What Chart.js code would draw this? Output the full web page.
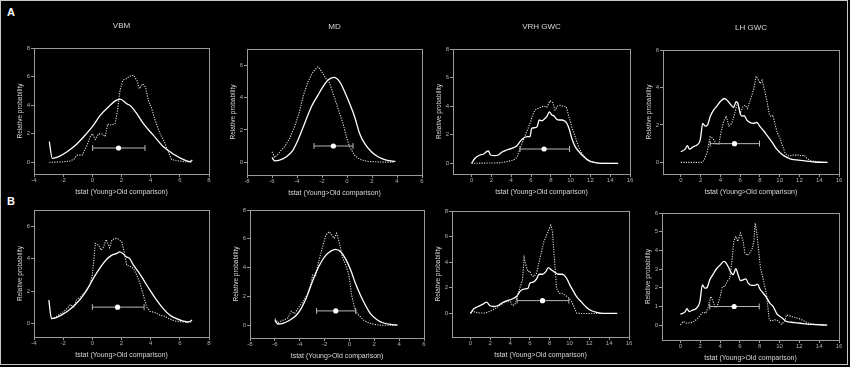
<!DOCTYPE html>
<html>
<head>
<meta charset="utf-8">
<script src="https://cdn.jsdelivr.net/npm/chart.js@4.4.1/dist/chart.umd.min.js"></script>
<style>
  html, body { margin: 0; padding: 0; background: #000; }
  #fig { position: relative; width: 850px; height: 367px; background: #000; overflow: hidden; }
  #frame { position: absolute; left: 0; top: 0; width: 846px; height: 363px; border: 1px solid #c8c8c8; }
  #fig canvas { position: absolute; left: 0; top: 0; }
  .tag { position: absolute; color: #fff; font: bold 11px "Liberation Sans", Arial, sans-serif; line-height: 11px; }
</style>
</head>
<body>
<div id="fig">
  <div id="frame"></div>
  <div class="tag" style="left:7px;top:7px">A</div>
  <div class="tag" style="left:7px;top:196px">B</div>
</div>
<script>
// panel titles (row A only)
const titles = ['VBM', 'MD', 'VRH GWC', 'LH GWC', '', '', '', ''];

// solid curves, [tstat, relative probability]
const solidA_VBM = [[-2.95,1.44],[-2.75,0.28],[-2.3,0.4],[-1.73,0.74],[-1.2,1.15],[-0.59,1.79],[0,2.49],[0.55,3.3],[1.23,4.0],[1.57,4.3],[1.9,4.42],[2.36,4.1],[2.64,3.93],[3.05,3.4],[3.5,2.7],[4.18,1.9],[4.86,1.1],[5.55,0.58],[6.23,0.2],[6.68,0.05],[6.86,0.16]];
const dottedA_VBM = [[-2.95,0],[-2.2,0.02],[-1.6,0.07],[-1.27,0.2],[-1.05,0.5],[-0.7,0.5],[-0.4,1.1],[-0.14,1.8],[0,2.0],[0.2,1.6],[0.43,2.0],[0.66,1.98],[0.89,1.8],[1.05,2.67],[1.34,2.6],[1.57,2.72],[1.73,3.65],[1.9,5.05],[2.09,5.74],[2.32,5.84],[2.55,6.02],[2.82,6.1],[3.05,5.74],[3.23,5.16],[3.45,5.5],[3.64,5.28],[3.84,4.35],[4.07,3.77],[4.3,2.95],[4.64,2.02],[4.98,1.33],[5.2,0.74],[5.43,0.2],[5.77,0.12],[6.23,0.05],[6.86,0]];

const solidA_MD = [[-6,0.29],[-5.79,0.08],[-5.39,0.12],[-4.85,0.33],[-4.32,0.75],[-3.92,1.37],[-3.39,2.4],[-2.85,3.44],[-2.32,4.16],[-1.92,4.68],[-1.52,5.09],[-1.04,5.26],[-0.59,4.99],[-0.19,4.37],[0.21,3.64],[0.61,2.82],[1.01,1.78],[1.41,1.16],[1.95,0.64],[2.48,0.33],[3.15,0.12],[3.87,0.04]];
const dottedA_MD = [[-6,0.64],[-5.79,0.29],[-5.52,0.5],[-5.25,0.75],[-4.99,0.95],[-4.59,1.47],[-4.19,2.19],[-3.84,3.02],[-3.52,4.06],[-3.12,4.99],[-2.72,5.61],[-2.32,5.92],[-2.11,5.71],[-1.84,5.4],[-1.65,5.13],[-1.44,4.99],[-1.25,4.58],[-1.07,4.16],[-0.85,3.64],[-0.59,3.02],[-0.32,2.4],[-0.05,1.57],[0.21,0.95],[0.61,0.43],[1.01,0.17],[1.68,0.04],[2.88,0],[3.81,0]];

const solidA_VRH = [[0,0],[0.34,0.35],[0.84,0.58],[1.18,0.63],[1.52,0.82],[1.69,0.86],[1.92,0.58],[2.36,0.54],[2.7,0.58],[3.04,0.77],[3.54,0.93],[4.05,1.05],[4.55,1.21],[4.89,1.52],[5.23,1.75],[5.63,1.86],[5.9,1.86],[6.07,2.45],[6.41,2.49],[6.65,2.61],[6.82,3.03],[7.09,2.98],[7.32,3.08],[7.59,3.26],[7.86,3.59],[8.1,3.38],[8.33,3.31],[8.6,3.08],[8.87,3.03],[9.11,3.03],[9.35,2.98],[9.62,2.8],[9.89,2.33],[10.12,1.75],[10.46,1.17],[10.9,0.77],[11.3,0.47],[11.81,0.19],[12.48,0.05],[13.16,0],[14.8,0]];
const dottedA_VRH = [[0,0],[2.87,0.03],[3.54,0.12],[4.05,0.19],[4.39,0.28],[4.62,0.47],[4.89,1.05],[5.23,1.63],[5.57,2.21],[5.9,2.8],[6.17,3.38],[6.41,3.73],[6.75,3.85],[7.09,3.96],[7.32,4.0],[7.59,3.92],[7.93,4.38],[8.2,4.24],[8.43,3.73],[8.67,4.0],[8.94,4.06],[9.28,4.0],[9.55,3.96],[9.78,3.38],[10.12,2.56],[10.46,1.86],[10.8,1.17],[11.13,0.7],[11.64,0.28],[12.15,0.09],[12.82,0],[14.8,0]];

const solidA_LH = [[0,0.57],[0.44,0.71],[0.67,0.89],[0.88,0.71],[1.28,0.84],[1.62,0.92],[1.96,1.19],[2.23,2.08],[2.46,1.94],[2.7,1.99],[2.97,2.44],[3.31,2.79],[3.64,3.0],[3.98,3.24],[4.42,3.41],[4.82,3.24],[5.09,3.06],[5.33,2.93],[5.6,3.24],[5.77,3.15],[6.01,2.61],[6.17,2.47],[6.41,2.49],[6.68,2.26],[7.02,2.12],[7.35,2.08],[7.69,2.13],[8.03,1.9],[8.37,1.69],[8.7,1.46],[9.21,1.1],[9.72,0.69],[10.22,0.44],[10.73,0.27],[11.23,0.16],[11.91,0.12],[12.75,0.07],[13.6,0.02],[14.84,0]];
const dottedA_LH = [[0,0],[2.13,0],[2.36,0.12],[2.63,0.48],[2.97,1.37],[3.24,1.28],[3.58,0.98],[3.85,0.98],[4.05,1.55],[4.32,2.17],[4.59,2.47],[4.86,1.94],[5.16,2.08],[5.4,2.52],[5.74,3.24],[6.01,2.61],[6.28,2.97],[6.51,3.06],[6.75,2.88],[7.02,3.32],[7.35,3.86],[7.62,4.6],[7.86,4.39],[8.03,4.21],[8.23,4.39],[8.43,3.95],[8.7,3.32],[8.97,2.52],[9.14,2.44],[9.31,2.52],[9.55,1.99],[9.78,1.55],[10.05,1.28],[10.32,0.84],[10.56,0.48],[10.9,0.34],[11.4,0.39],[11.91,0.39],[12.25,0.34],[12.48,0.39],[12.75,0.21],[13.09,0.09],[13.77,0.04],[14.84,0]];

const solidB_VBM = [[-2.98,1.43],[-2.8,0.29],[-2.52,0.33],[-2.07,0.54],[-1.61,0.81],[-1.16,1.16],[-0.7,1.64],[-0.32,2.15],[0,2.67],[0.32,3.15],[0.66,3.6],[1.0,3.98],[1.34,4.22],[1.68,4.33],[1.86,4.43],[2.09,4.33],[2.32,4.12],[2.55,4.02],[2.82,3.6],[3.16,3.19],[3.5,2.71],[3.95,2.05],[4.41,1.43],[4.86,0.91],[5.32,0.5],[5.77,0.29],[6.23,0.14],[6.57,0.08],[6.84,0.19]];
const dottedB_VBM = [[-2.8,0.29],[-2.52,0.39],[-2.18,0.6],[-1.84,0.81],[-1.5,1.16],[-1.27,1.01],[-1.09,1.43],[-0.82,1.64],[-0.48,1.95],[-0.18,2.36],[0,2.98],[0.09,3.81],[0.2,4.95],[0.43,4.84],[0.61,4.53],[0.77,4.74],[0.95,5.2],[1.05,4.95],[1.18,4.68],[1.34,5.16],[1.57,5.26],[1.8,5.22],[2.02,5.05],[2.18,4.43],[2.36,3.6],[2.59,3.54],[2.82,3.4],[3.05,2.98],[3.27,2.46],[3.5,1.74],[3.73,1.01],[3.95,0.75],[4.3,0.66],[4.64,0.5],[4.98,0.43],[5.32,0.25],[5.77,0.12],[6.23,0.08],[6.84,0.08]];

const solidB_MD = [[-6,0.35],[-5.74,0.09],[-5.35,0.14],[-4.81,0.35],[-4.28,0.7],[-3.89,1.16],[-3.49,1.86],[-3.09,2.78],[-2.69,3.67],[-2.29,4.36],[-1.89,4.87],[-1.5,5.15],[-1.1,5.27],[-0.7,5.1],[-0.3,4.59],[0.1,3.83],[0.49,2.9],[0.89,2.09],[1.29,1.39],[1.69,0.81],[2.22,0.39],[2.75,0.16],[3.42,0.05],[3.87,0.02]];
const dottedB_MD = [[-6,0.46],[-5.74,0.19],[-5.35,0.35],[-4.95,0.51],[-4.68,0.97],[-4.42,0.81],[-4.15,1.16],[-3.75,1.62],[-3.35,2.2],[-3.09,2.9],[-2.96,3.48],[-2.74,3.36],[-2.48,4.41],[-2.16,5.45],[-1.89,6.26],[-1.63,6.5],[-1.42,6.26],[-1.23,6.03],[-1.04,6.38],[-0.83,5.8],[-0.57,4.76],[-0.3,4.18],[-0.04,3.48],[0.18,2.09],[0.39,1.28],[0.63,0.81],[0.89,0.58],[1.16,0.35],[1.56,0.16],[2.09,0.05],[2.62,0],[3.87,0]];

const solidB_VRH = [[0,0],[0.34,0.36],[0.77,0.54],[1.28,0.73],[1.62,0.88],[1.95,0.62],[2.36,0.54],[2.79,0.62],[3.13,0.8],[3.64,0.98],[4.14,1.11],[4.65,1.32],[5.05,1.76],[5.49,1.92],[5.82,1.97],[5.99,2.36],[6.33,2.44],[6.67,2.69],[6.94,3.06],[7.27,3.06],[7.61,3.26],[7.85,3.58],[8.18,3.39],[8.52,3.21],[8.86,3.06],[9.19,3.06],[9.43,3.0],[9.7,2.75],[10.03,2.23],[10.37,1.76],[10.71,1.32],[11.21,0.88],[11.72,0.47],[12.22,0.21],[12.73,0.08],[13.4,0],[14.81,0]];
const dottedB_VRH = [[0,0],[0.2,0.21],[0.44,0.1],[0.94,0.03],[1.45,0.03],[1.95,0.16],[2.46,0.36],[2.96,0.62],[3.47,0.88],[3.8,0.98],[4.04,0.93],[4.24,0.62],[4.48,0.67],[4.71,1.32],[4.98,1.97],[5.25,2.62],[5.42,4.35],[5.59,3.78],[5.82,3.26],[5.99,3.32],[6.16,3.0],[6.4,2.88],[6.67,3.13],[6.9,3.91],[7.17,4.82],[7.41,5.6],[7.68,6.11],[7.95,6.63],[8.11,6.89],[8.28,6.37],[8.52,3.78],[8.69,1.97],[8.96,1.58],[9.19,1.58],[9.53,1.45],[9.87,1.24],[10.2,0.93],[10.44,0.54],[10.71,0.03],[11.04,0],[14.81,0]];

const solidB_LH = [[0,0.59],[0.44,0.7],[0.67,0.88],[0.88,0.73],[1.28,0.82],[1.62,0.91],[1.95,1.23],[2.22,2.16],[2.46,1.98],[2.69,2.02],[2.96,2.43],[3.3,2.73],[3.64,3.02],[3.97,3.2],[4.41,3.41],[4.81,3.14],[5.08,2.84],[5.32,2.7],[5.59,3.02],[5.82,2.7],[6.06,2.38],[6.33,2.43],[6.6,2.48],[6.84,2.25],[7.17,2.13],[7.51,2.13],[7.78,2.2],[8.01,1.95],[8.35,1.71],[8.69,1.48],[9.02,1.18],[9.36,1.0],[9.7,0.64],[10.2,0.41],[10.71,0.2],[11.21,0.16],[11.72,0.13],[12.39,0.09],[13.23,0.04],[14.81,0]];
const dottedB_LH = [[0,0.02],[0.27,0.2],[0.61,0.11],[1.11,0.14],[1.45,0.23],[1.78,0.38],[2.02,0.55],[2.29,0.7],[2.56,0.64],[2.79,0.95],[3.06,1.54],[3.3,1.27],[3.5,0.95],[3.7,1.0],[3.97,1.45],[4.24,2.07],[4.48,2.07],[4.71,2.34],[4.98,2.52],[5.19,3.41],[5.39,4.48],[5.59,4.75],[5.79,4.48],[6.06,4.93],[6.33,4.48],[6.5,3.86],[6.73,3.73],[7.0,3.86],[7.27,4.13],[7.41,4.48],[7.54,5.46],[7.68,5.02],[7.85,4.21],[8.08,3.05],[8.35,2.48],[8.69,1.63],[8.96,0.29],[9.19,0.23],[9.53,0.29],[9.87,0.23],[10.2,0.05],[10.54,0.23],[10.71,0.55],[11.04,0.5],[11.55,0.41],[12.05,0.34],[12.46,0.23],[12.9,0.11],[13.57,0.05],[14.81,0.02]];

// interval under each panel: low, mean, high (drawn at y = 1)
const ciLow  = [0.02, -2.64, 4.89, 2.97, 0.0, -2.64, 4.71, 2.96];
const ciMean = [1.8, -1.09, 7.32, 5.43, 1.73, -1.1, 7.27, 5.42];
const ciHigh = [3.61, 0.48, 9.89, 7.96, 3.55, 0.5, 9.93, 7.95];
const ciLevel = 1;

const solids  = [solidA_VBM, solidA_MD, solidA_VRH, solidA_LH, solidB_VBM, solidB_MD, solidB_VRH, solidB_LH];
const dotteds = [dottedA_VBM, dottedA_MD, dottedA_VRH, dottedA_LH, dottedB_VBM, dottedB_MD, dottedB_VRH, dottedB_LH];

// layout: plot box [left, top, right, bottom] in px, axis ranges [min, max, step]
const boxes = [[34,48,209,174],[247,49,422,175],[453,49,630,174],[663,50,839,174],
               [34,210,209,337],[250,210,424,338],[452,211,629,337],[662,213,839,340]];
const xRanges = [[-4,8,2],[-8,6,2],[-1.88,16,2],[-1.8,16,2],[-4,8,2],[-8,6,2],[-1.86,16,2],[-1.86,16,2]];
const yRanges = [[-0.82,8,2],[-0.8,7.02,2],[-0.75,8,2],[-0.62,6,2],[-0.85,7.02,2],[-0.88,8,2],[-1.84,8,2],[-0.79,6,1]];

const W = 850, H = 367, YW = 20, XH = 22;
const axisCol = '#9a9a9a', textCol = '#d8d8d8', tickCol = '#b0b0b0';
const FONT = '"Liberation Sans", Arial, sans-serif';

const frameBox = {
  id: 'frameBox',
  afterDraw(chart) {
    const { ctx, chartArea: a } = chart;
    ctx.save();
    ctx.strokeStyle = axisCol;
    ctx.lineWidth = 1;
    ctx.strokeRect(Math.round(a.left) + 0.5, Math.round(a.top) + 0.5,
                   Math.round(a.right - a.left), Math.round(a.bottom - a.top));
    ctx.restore();
  }
};

// ticks only at whole steps inside the range
function stepTicks(step) {
  return s => {
    const out = [];
    for (let v = Math.ceil(s.min / step - 1e-9) * step; v <= s.max + 1e-9; v += step) {
      out.push({ value: Math.round(v * 1000) / 1000 });
    }
    s.ticks = out;
  };
}

const toXY = arr => arr.map(p => ({ x: p[0], y: p[1] }));

for (let i = 0; i < 8; i++) {
  const [L, T, R, B] = boxes[i];
  const hasTitle = titles[i] !== '';
  const titleH = 8 * 1.2 + 17;

  const canvas = document.createElement('canvas');
  canvas.width = W; canvas.height = H;
  canvas.style.width = W + 'px'; canvas.style.height = H + 'px';
  document.getElementById('fig').appendChild(canvas);

  new Chart(canvas, {
    type: 'line',
    data: {
      datasets: [
        { data: [{ x: ciMean[i], y: ciLevel }], showLine: false, pointRadius: 2.6,
          pointBackgroundColor: '#fff', pointBorderColor: '#fff', borderWidth: 0 },
        { data: [{ x: ciLow[i], y: ciLevel }, { x: ciHigh[i], y: ciLevel }], borderColor: '#b8b8b8',
          borderWidth: 1, pointStyle: 'line', rotation: 90, pointRadius: 3,
          pointBorderColor: '#b8b8b8', pointBorderWidth: 1 },
        { data: toXY(solids[i]), borderColor: '#ffffff', borderWidth: 1.3, pointRadius: 0,
          cubicInterpolationMode: 'monotone' },
        { data: toXY(dotteds[i]), borderColor: '#dcdcdc', borderWidth: 1.1, borderDash: [1.2, 1.3],
          pointRadius: 0, tension: 0 }
      ]
    },
    options: {
      responsive: false,
      animation: false,
      events: [],
      layout: { padding: { left: L - YW, right: W - R, top: hasTitle ? T - titleH : T, bottom: H - B - XH } },
      plugins: {
        legend: { display: false },
        tooltip: { enabled: false },
        title: {
          display: hasTitle, text: titles[i], fullSize: false, color: textCol,
          font: { family: FONT, size: 8, weight: 'normal' }, padding: { top: 0, bottom: 17 }
        }
      },
      scales: {
        x: {
          type: 'linear', min: xRanges[i][0], max: xRanges[i][1],
          afterFit: s => { s.height = XH; },
          afterBuildTicks: stepTicks(xRanges[i][2]),
          ticks: { color: tickCol, font: { family: FONT, size: 6 },
                   padding: 0, maxRotation: 0, autoSkip: false },
          grid: { drawOnChartArea: false, drawTicks: true, tickLength: 3, color: axisCol },
          border: { display: false },
          title: { display: true, text: 'tstat (Young>Old comparison)', color: textCol,
                   font: { family: FONT, size: 7 }, padding: 0 }
        },
        y: {
          type: 'linear', min: yRanges[i][0], max: yRanges[i][1],
          afterFit: s => { s.width = YW; },
          afterBuildTicks: stepTicks(yRanges[i][2]),
          ticks: { color: tickCol, font: { family: FONT, size: 6 },
                   padding: 1, autoSkip: false },
          grid: { drawOnChartArea: false, drawTicks: true, tickLength: 3, color: axisCol },
          border: { display: false },
          title: { display: true, text: 'Relative probability', color: textCol,
                   font: { family: FONT, size: 6.5 }, padding: { top: 2, bottom: 0 } }
        }
      }
    },
    plugins: [frameBox]
  });
}
</script>
</body>
</html>
